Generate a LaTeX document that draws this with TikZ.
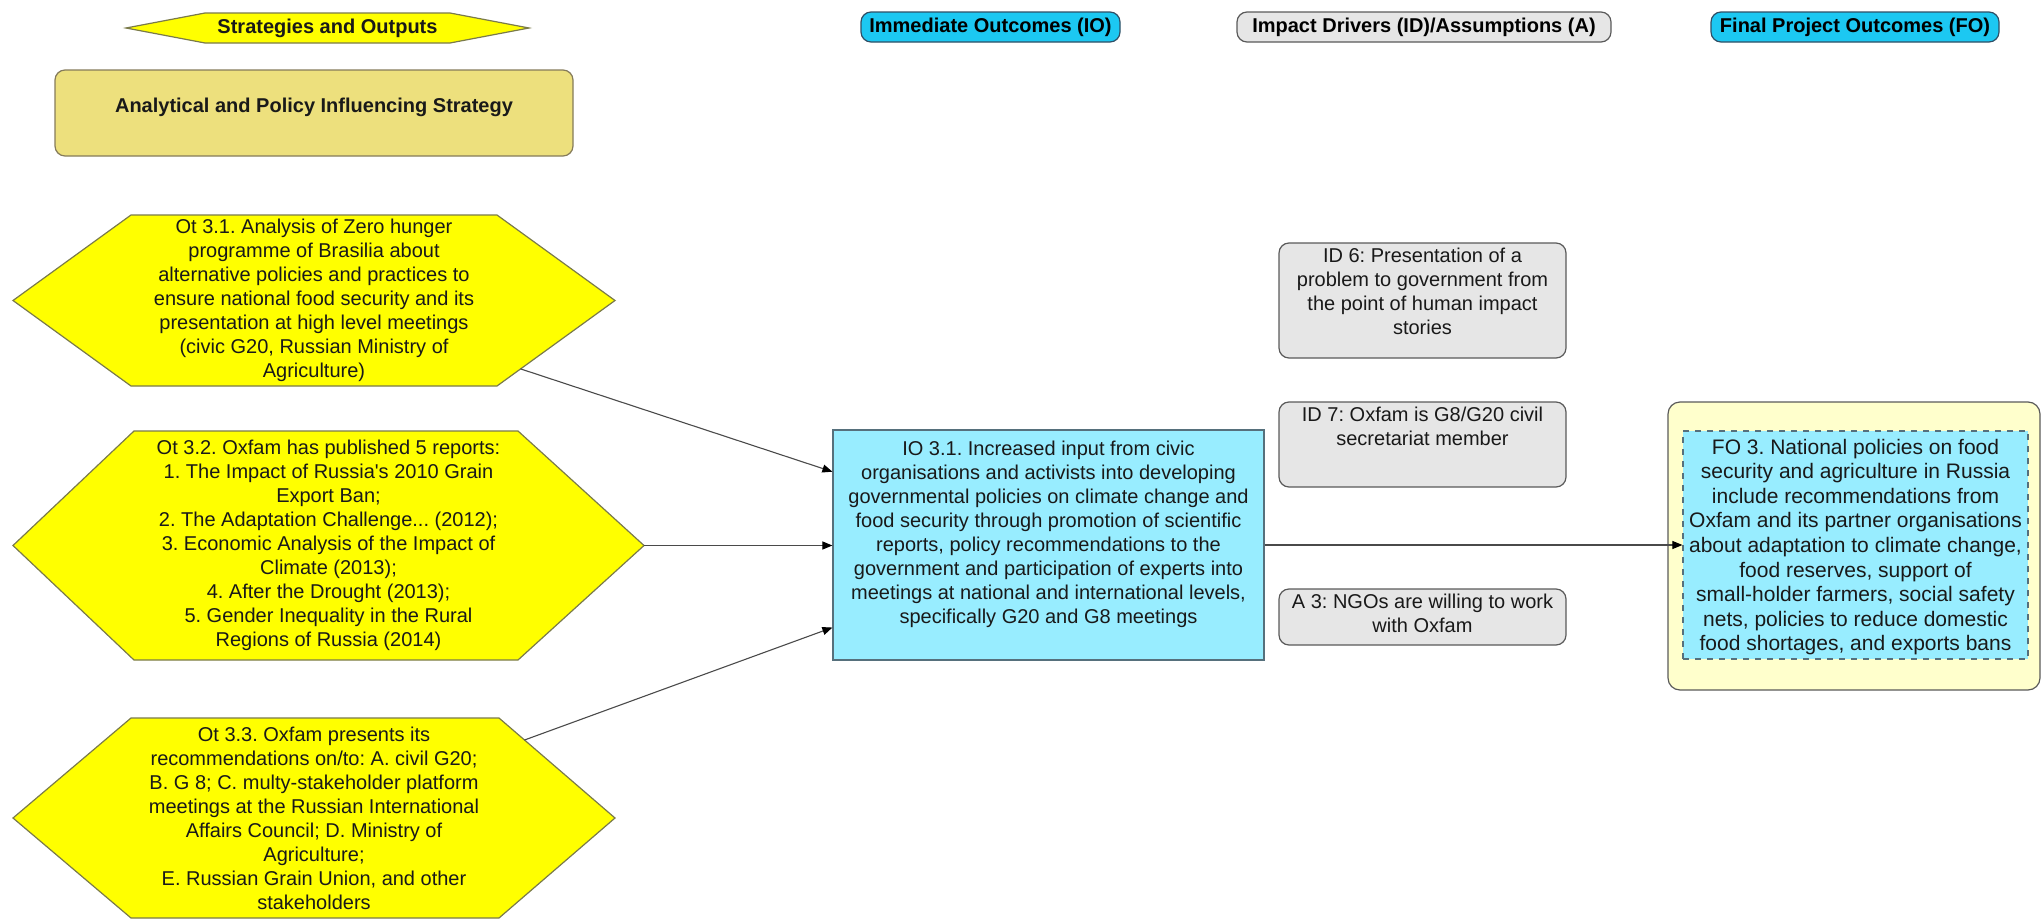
\documentclass[tikz,border=0pt]{standalone}
\usepackage{fontspec}
\setmainfont{Liberation Sans}
\usetikzlibrary{calc,arrows.meta}
\frenchspacing
\definecolor{hexfill}{HTML}{FFFF00}
\definecolor{hexdraw}{HTML}{7A7A4A}
\definecolor{khaki}{HTML}{EDE07D}
\definecolor{khakidraw}{HTML}{857B5A}
\definecolor{pillcyan}{HTML}{1CC8F2}
\definecolor{pilldraw}{HTML}{2F4F66}
\definecolor{lightcyan}{HTML}{98EDFF}
\definecolor{cyandraw}{HTML}{56707C}
\definecolor{boxgray}{HTML}{E6E6E6}
\definecolor{graydraw}{HTML}{5A5A5A}
\definecolor{paleyellow}{HTML}{FFFFCC}
\definecolor{linegray}{HTML}{4A4A4A}
\newcommand\myhex[8]{%
  \coordinate (#1-l) at (#2,{(#6+#7)/2});
  \coordinate (#1-tl) at (#3,#6);
  \coordinate (#1-tr) at (#4,#6);
  \coordinate (#1-r) at (#5,{(#6+#7)/2});
  \coordinate (#1-br) at (#4,#7);
  \coordinate (#1-bl) at (#3,#7);
  \draw[hexshape] (#1-l) -- (#1-tl) -- (#1-tr) -- (#1-r) -- (#1-br) -- (#1-bl) -- cycle;
  \node[txt] (#1) at ({(#2+#5)/2},{(#6+#7)/2}) {#8};
}
\begin{document}
\begin{tikzpicture}[x=0.5pt,y=-0.5pt,
  txt/.style={align=center,inner sep=0pt,font=\fontsize{10pt}{12pt}\selectfont,text=black!90},
  hexshape/.style={fill=hexfill,draw=hexdraw,line width=0.6pt},
  khakibox/.style={fill=khaki,draw=khakidraw,line width=0.6pt,rounded corners=5pt,inner sep=0pt},
  pill/.style={fill=pillcyan,draw=pilldraw,line width=0.6pt,rounded corners=5pt,inner sep=0pt,font=\bfseries\fontsize{10pt}{12pt}\selectfont},
  graypill/.style={pill,fill=boxgray,draw=graydraw},
  iobox/.style={fill=lightcyan,draw=cyandraw,line width=0.6pt,inner sep=0pt},
  idbox/.style={fill=boxgray,draw=graydraw,line width=0.6pt,rounded corners=5pt,inner sep=0pt},
  fobox/.style={fill=paleyellow,draw=graydraw,line width=0.6pt,rounded corners=6pt,inner sep=0pt},
  foinner/.style={fill=lightcyan,draw=cyandraw,dashed,line width=0.6pt,inner sep=0pt},
  conn/.style={draw=linegray,line width=0.55pt,-{Triangle[length=5pt,width=4pt,color=black]}}
]
\useasboundingbox (0,0) rectangle (2042,921);

% headers
\myhex{strat}{126}{205}{450}{529}{13}{43}{\bfseries Strategies and Outputs}
\node[pill,minimum width=129.5pt,minimum height=15pt] (himm) at (990.5,27) {Immediate Outcomes (IO)};
\node[graypill,minimum width=187pt,minimum height=15pt] (himp) at (1424,27) {Impact Drivers (ID)/Assumptions (A)};
\node[pill,minimum width=144pt,minimum height=15pt] (hfin) at (1855,27) {Final Project Outcomes (FO)};

% strategy box
\node[khakibox,minimum width=259pt,minimum height=43pt] (ana) at (314,113) {};
\node[txt,font=\bfseries\fontsize{10pt}{12pt}\selectfont] (anat) at (314,107) {Analytical and Policy Influencing Strategy};

% outputs
\myhex{ot1}{13}{131}{497}{615}{215}{386}{Ot 3.1. Analysis of Zero hunger\\programme of Brasilia about\\alternative policies and practices to\\ensure national food security and its\\presentation at high level meetings\\(civic G20, Russian Ministry of\\Agriculture)}
\myhex{ot2}{13}{134}{518}{644}{431}{660}{Ot 3.2. Oxfam has published 5 reports:\\1. The Impact of Russia\textquotesingle s 2010 Grain\\Export Ban;\\2. The Adaptation Challenge... (2012);\\3. Economic Analysis of the Impact of\\Climate (2013);\\4. After the Drought (2013);\\5. Gender Inequality in the Rural\\Regions of Russia (2014)}
\myhex{ot3}{13}{131}{499}{615}{718}{918}{Ot 3.3. Oxfam presents its\\recommendations on/to: A. civil G20;\\B. G 8; C. multy-stakeholder platform\\meetings at the Russian International\\Affairs Council; D. Ministry of\\Agriculture;\\E. Russian Grain Union, and other\\stakeholders}

% immediate outcome
\node[iobox,minimum width=215.5pt,minimum height=115pt] (io) at (1048.5,545) {};
\node[txt] (iot) at (1048.5,534.5) {IO 3.1. Increased input from civic\\organisations and activists into developing\\governmental policies on climate change and\\food security through promotion of scientific\\reports, policy recommendations to the\\government and participation of experts into\\meetings at national and international levels,\\specifically G20 and G8 meetings};

% impact drivers
\node[idbox,minimum width=143.5pt,minimum height=57.5pt] (id6) at (1422.5,300.5) {};
\node[txt] (id6t) at (1422.5,291.5) {ID 6: Presentation of a\\problem to government from\\the point of human impact\\stories};
\node[idbox,minimum width=143.5pt,minimum height=42.5pt] (id7) at (1422.5,444.5) {};
\node[txt] (id7t) at (1422.5,426) {ID 7: Oxfam is G8/G20 civil\\secretariat member};
\node[idbox,minimum width=143.5pt,minimum height=28pt] (a3) at (1422.5,617) {};
\node[txt] (a3t) at (1422.5,613) {A 3: NGOs are willing to work\\with Oxfam};

% final outcome
\node[fobox,minimum width=186pt,minimum height=144pt] (foout) at (1854,546) {};
\node[foinner,minimum width=172.5pt,minimum height=114pt] (fo) at (1855.5,545) {};
\node[txt,font=\fontsize{10.5pt}{12.3pt}\selectfont] (fot) at (1855.5,547) {FO 3. National policies on food\\security and agriculture in Russia\\include recommendations from\\Oxfam and its partner organisations\\about adaptation to climate change,\\food reserves, support of\\small-holder farmers, social safety\\nets, policies to reduce domestic\\food shortages, and exports bans};

% connectors
\draw[conn] ($(ot1-r)!0.8!(ot1-br)$) -- ($(io.north west)!0.183!(io.south west)$);
\draw[conn] (ot2-r) -- (io.west |- ot2-r);
\draw[conn] ($(ot3-tr)!0.22!(ot3-r)$) -- ($(io.north west)!0.857!(io.south west)$);
\draw[conn] (io.east) -- (fo.west);
\end{tikzpicture}
\end{document}
